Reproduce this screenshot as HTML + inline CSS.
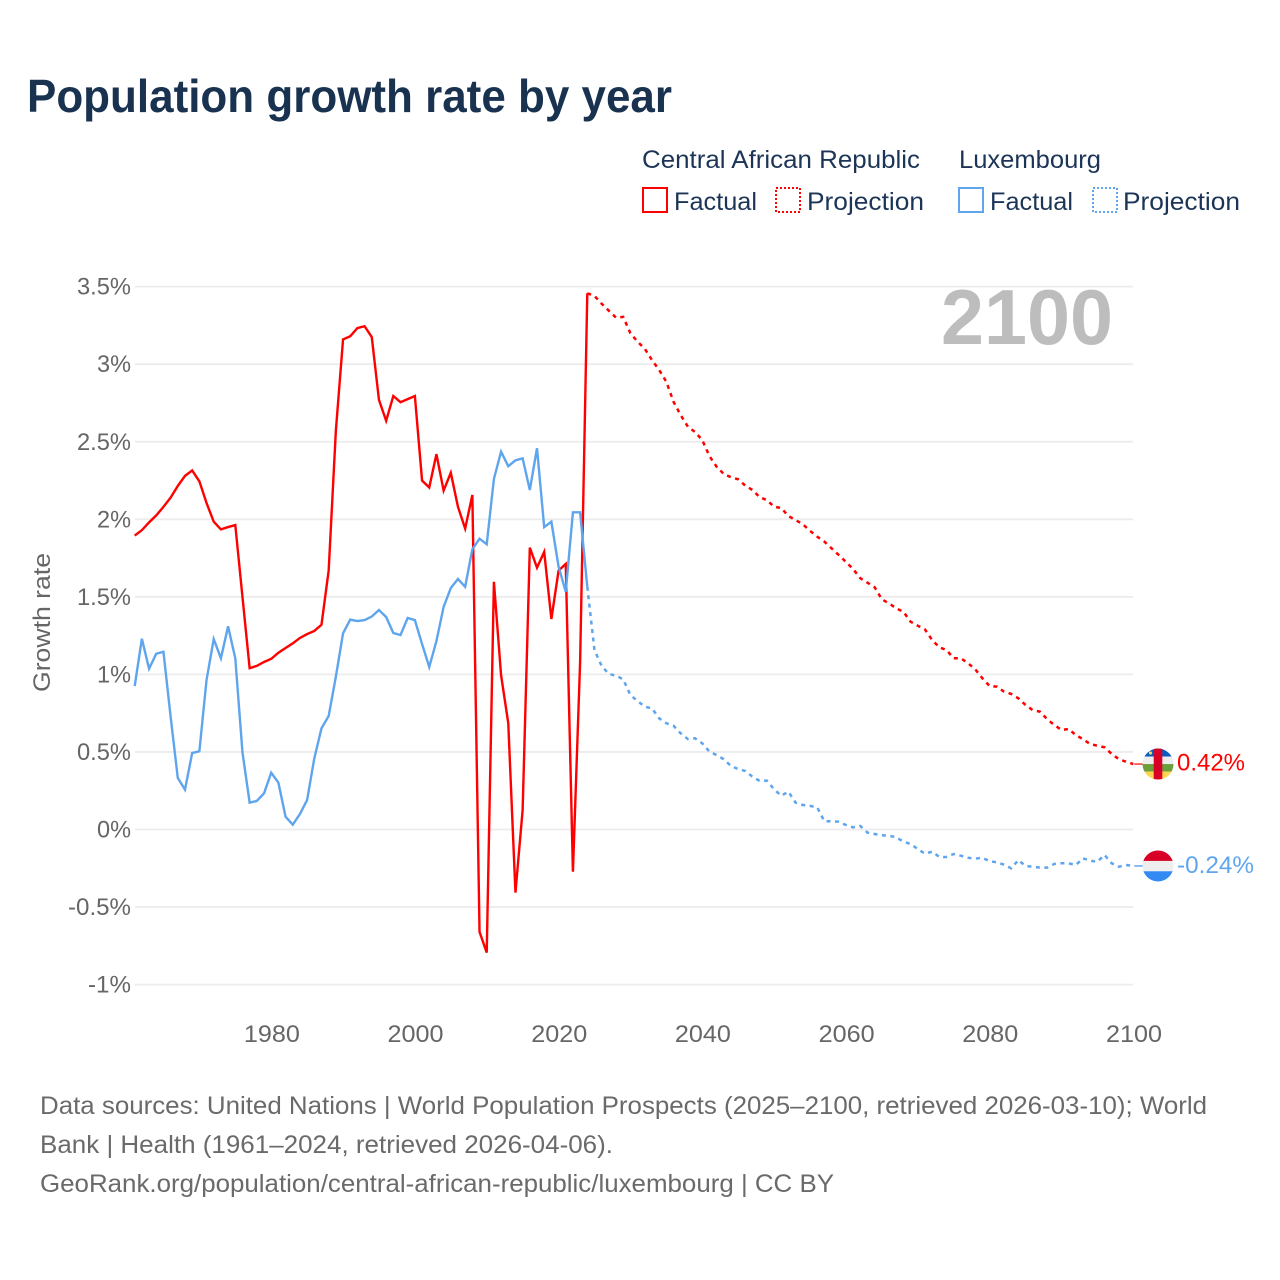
<!DOCTYPE html>
<html lang="en">
<head>
<meta charset="utf-8">
<title>Population growth rate by year</title>
<style>
  html, body { margin: 0; padding: 0; background: #ffffff; }
  svg { display: block; font-family: "Liberation Sans", sans-serif; }
</style>
</head>
<body>
<svg id="chart" xmlns="http://www.w3.org/2000/svg" width="1280" height="1280" viewBox="0 0 1280 1280">
  <rect x="0" y="0" width="1280" height="1280" fill="#ffffff"/>

  <text x="27" y="112" font-size="46" font-weight="700" fill="#18324f" textLength="645" lengthAdjust="spacingAndGlyphs">Population growth rate by year</text>

  <g font-size="25" fill="#1c3557">
    <text x="642" y="168" textLength="278" lengthAdjust="spacingAndGlyphs">Central African Republic</text>
    <text x="959" y="168" textLength="142" lengthAdjust="spacingAndGlyphs">Luxembourg</text>

    <rect x="643" y="188" width="24" height="24" fill="none" stroke="#ff0000" stroke-width="2"/>
    <text x="674" y="210" textLength="83" lengthAdjust="spacingAndGlyphs">Factual</text>
    <rect x="776" y="188" width="24" height="24" fill="none" stroke="#ff0000" stroke-width="2" stroke-dasharray="2 2"/>
    <text x="807" y="210" textLength="117" lengthAdjust="spacingAndGlyphs">Projection</text>

    <rect x="959" y="188" width="24" height="24" fill="none" stroke="#5ea5ee" stroke-width="2"/>
    <text x="990" y="210" textLength="83" lengthAdjust="spacingAndGlyphs">Factual</text>
    <rect x="1093" y="188" width="24" height="24" fill="none" stroke="#5ea5ee" stroke-width="2" stroke-dasharray="2 2"/>
    <text x="1123" y="210" textLength="117" lengthAdjust="spacingAndGlyphs">Projection</text>
  </g>

  <g id="grid"></g>
  <g id="y-ticks"></g>
  <g id="x-ticks"></g>

  <text transform="translate(50,692) rotate(-90)" x="0" y="0" font-size="24" fill="#666666" textLength="139" lengthAdjust="spacingAndGlyphs">Growth rate</text>

  <text x="941" y="344" font-size="78" font-weight="700" fill="#bdbdbd" textLength="172" lengthAdjust="spacingAndGlyphs">2100</text>

  <g id="series"></g>

  <g id="end-markers"></g>

  <g font-size="25" fill="#6a6a6a">
    <text x="40" y="1114" textLength="1167" lengthAdjust="spacingAndGlyphs">Data sources: United Nations | World Population Prospects (2025–2100, retrieved 2026-03-10); World</text>
    <text x="40" y="1153" textLength="573" lengthAdjust="spacingAndGlyphs">Bank | Health (1961–2024, retrieved 2026-04-06).</text>
    <text x="40" y="1192" textLength="794" lengthAdjust="spacingAndGlyphs">GeoRank.org/population/central-african-republic/luxembourg | CC BY</text>
  </g>
</svg>

<script>
const yTickValues = [3.5, 3, 2.5, 2, 1.5, 1, 0.5, 0, -0.5, -1];
const yTickLabels = ["3.5%", "3%", "2.5%", "2%", "1.5%", "1%", "0.5%", "0%", "-0.5%", "-1%"];
const xTickYears = [1980, 2000, 2020, 2040, 2060, 2080, 2100];
const factualStartYear = 1961;
const projectionStartYear = 2025;

const carFactual = [
  1.895, 1.93, 1.98, 2.025, 2.08, 2.14, 2.215, 2.28, 2.315, 2.245,
  2.105, 1.985, 1.935, 1.95, 1.963, 1.5, 1.04, 1.055, 1.08, 1.10,
  1.14, 1.17, 1.20, 1.235, 1.26, 1.28, 1.32, 1.67, 2.57, 3.16,
  3.18, 3.233, 3.245, 3.175, 2.77, 2.635, 2.795, 2.755, 2.775, 2.795,
  2.25, 2.205, 2.42, 2.185, 2.30, 2.08, 1.94, 2.157, -0.66, -0.794,
  1.597, 0.995, 0.685, -0.407, 0.126, 1.817, 1.688, 1.79, 1.357, 1.669,
  1.712, -0.272, 1.08, 3.457
];

const luxFactual = [
  0.925, 1.23, 1.037, 1.133, 1.146, 0.727, 0.332, 0.257, 0.493, 0.504,
  0.964, 1.228, 1.104, 1.31, 1.104, 0.498, 0.173, 0.184, 0.233, 0.366,
  0.302, 0.083, 0.031, 0.10, 0.19, 0.459, 0.652, 0.732, 0.985, 1.265,
  1.353, 1.344, 1.35, 1.373, 1.415, 1.37, 1.267, 1.254, 1.364, 1.35,
  1.196, 1.048, 1.215, 1.435, 1.557, 1.615, 1.565, 1.807, 1.875, 1.839,
  2.26, 2.436, 2.342, 2.38, 2.393, 2.189, 2.458, 1.95, 1.985, 1.695,
  1.533, 2.045, 2.045, 1.565
];

const carProjection = [
  3.44, 3.39, 3.345, 3.30, 3.305, 3.2, 3.145, 3.10, 3.027, 2.963,
  2.887, 2.758, 2.672, 2.597, 2.563, 2.511, 2.408, 2.339, 2.292, 2.271,
  2.258, 2.217, 2.189, 2.142, 2.124, 2.081, 2.073, 2.021, 1.995, 1.968,
  1.926, 1.888, 1.856, 1.813, 1.77, 1.725, 1.68, 1.62, 1.591, 1.562,
  1.484, 1.458, 1.426, 1.404, 1.34, 1.314, 1.29, 1.222, 1.175, 1.157,
  1.104, 1.104, 1.072, 1.033, 0.975, 0.925, 0.921, 0.889, 0.874, 0.846,
  0.803, 0.77, 0.76, 0.712, 0.674, 0.642, 0.648, 0.609, 0.582, 0.551,
  0.54, 0.53, 0.487, 0.453, 0.437, 0.422
];

const luxProjection = [
  1.157, 1.054, 1.003, 0.992, 0.968, 0.867, 0.828, 0.792, 0.781, 0.717,
  0.685, 0.669, 0.62, 0.583, 0.588, 0.556, 0.502, 0.48, 0.453, 0.409,
  0.39, 0.377, 0.34, 0.313, 0.315, 0.259, 0.218, 0.244, 0.173, 0.158,
  0.152, 0.143, 0.053, 0.053, 0.05, 0.029, 0.014, 0.023, -0.02, -0.029,
  -0.037, -0.04, -0.05, -0.079, -0.093, -0.126, -0.156, -0.143, -0.177, -0.177,
  -0.158, -0.169, -0.182, -0.188, -0.182, -0.205, -0.211, -0.227, -0.25, -0.197,
  -0.235, -0.24, -0.246, -0.246, -0.222, -0.218, -0.218, -0.229, -0.186, -0.201,
  -0.208, -0.164, -0.218, -0.24, -0.229, -0.235
];

const carEndLabel = "0.42%";
const luxEndLabel = "-0.24%";

const SVG_NS = "http://www.w3.org/2000/svg";
const RED = "#ff0000";
const BLUE = "#5ea5ee";

function xScale(year) {
  return 134.7 + (year - 1961) * 7.184;
}
function yScale(value) {
  return 829.5 - value * 155.1;
}
function make(tag, attrs, parent) {
  const el = document.createElementNS(SVG_NS, tag);
  for (const k in attrs) el.setAttribute(k, attrs[k]);
  parent.appendChild(el);
  return el;
}
function labelWidth(s) {
  let w = 0;
  for (const c of s) w += c === "%" ? 20 : c === "." ? 6 : c === "-" ? 9 : 14;
  return w;
}
function pathFrom(values, startYear) {
  return values.map((v, i) =>
    (i ? "L" : "M") + xScale(startYear + i).toFixed(2) + " " + yScale(v).toFixed(2)
  ).join(" ");
}

const grid = document.getElementById("grid");
const yTicks = document.getElementById("y-ticks");
const xTicks = document.getElementById("x-ticks");
const series = document.getElementById("series");
const markers = document.getElementById("end-markers");

yTickValues.forEach((v, i) => {
  const line = make("line", { x1: 135, x2: 1133, y1: yScale(v), y2: yScale(v), stroke: "#ececec", "stroke-width": 1.8 }, grid);
  
  
  const t = make("text", { x: 131, y: yScale(v) + 8, "text-anchor": "end", "font-size": 24, fill: "#666666",
    textLength: labelWidth(yTickLabels[i]), lengthAdjust: "spacingAndGlyphs" }, yTicks);
  t.textContent = yTickLabels[i];
  
  
});

xTickYears.forEach((year) => {
  const t = make("text", { x: xScale(year) + 0.7, y: 1042, "text-anchor": "middle", "font-size": 24, fill: "#666666",
    textLength: 56, lengthAdjust: "spacingAndGlyphs" }, xTicks);
  t.textContent = String(year);
  
  
});

const carLine = make("path", { d: pathFrom(carFactual, factualStartYear), fill: "none", stroke: RED, "stroke-width": 2.4, "stroke-linejoin": "miter" }, series);



const carDash = make("path", { d: pathFrom([carFactual[carFactual.length - 1]].concat(carProjection), projectionStartYear - 1), fill: "none", stroke: RED, "stroke-width": 2.5, "stroke-dasharray": "4 4.5" }, series);



const luxLine = make("path", { d: pathFrom(luxFactual, factualStartYear), fill: "none", stroke: BLUE, "stroke-width": 2.4, "stroke-linejoin": "miter" }, series);



const luxDash = make("path", { d: pathFrom([luxFactual[luxFactual.length - 1]].concat(luxProjection), projectionStartYear - 1), fill: "none", stroke: BLUE, "stroke-width": 2.5, "stroke-dasharray": "4 4.5" }, series);



const carEndY = yScale(carProjection[carProjection.length - 1]);
const luxEndY = yScale(luxProjection[luxProjection.length - 1]);
const endX = xScale(2100);
const flagX = 1158;

const carLead = make("line", { x1: endX + 1, x2: flagX - 15, y1: carEndY, y2: carEndY, stroke: RED, "stroke-width": 1.5, opacity: 0.8 }, markers);


const luxLead = make("line", { x1: endX + 1, x2: flagX - 15, y1: luxEndY, y2: luxEndY, stroke: BLUE, "stroke-width": 1.5 }, markers);



const defs = make("defs", {}, markers);
const carClip = make("clipPath", { id: "clip-car" }, defs);
make("circle", { cx: flagX, cy: carEndY, r: 15.5 }, carClip);
const luxClip = make("clipPath", { id: "clip-lux" }, defs);
make("circle", { cx: flagX, cy: luxEndY, r: 15.5 }, luxClip);

const carFlag = make("g", { "clip-path": "url(#clip-car)" }, markers);


[["#0b5cbe", -16, 8.5], ["#eeeeee", -7.5, 7.5], ["#6a9f3c", 0, 7.5], ["#ffd54f", 7.5, 8.5]].forEach((s) => {
  make("rect", { x: flagX - 16, y: carEndY + s[1], width: 32, height: s[2], fill: s[0] }, carFlag);
});
make("rect", { x: flagX - 4.3, y: carEndY - 16, width: 8.6, height: 32, fill: "#d80027" }, carFlag);
make("circle", { cx: flagX - 7.5, cy: carEndY - 11, r: 1.6, fill: "#ffd54f" }, carFlag);

const luxFlag = make("g", { "clip-path": "url(#clip-lux)" }, markers);


[["#d80027", -16, 11], ["#eeeeee", -5, 10.3], ["#338af3", 5.3, 11]].forEach((s) => {
  make("rect", { x: flagX - 16, y: luxEndY + s[1], width: 32, height: s[2], fill: s[0] }, luxFlag);
});

const carLabel = make("text", { x: 1177, y: carEndY + 6.5, "font-size": 24, fill: RED, textLength: 68, lengthAdjust: "spacingAndGlyphs" }, markers);
carLabel.textContent = carEndLabel;



const luxLabel = make("text", { x: 1177, y: luxEndY + 7, "font-size": 24, fill: BLUE, textLength: 77, lengthAdjust: "spacingAndGlyphs" }, markers);
luxLabel.textContent = luxEndLabel;


</script>
</body>
</html>
